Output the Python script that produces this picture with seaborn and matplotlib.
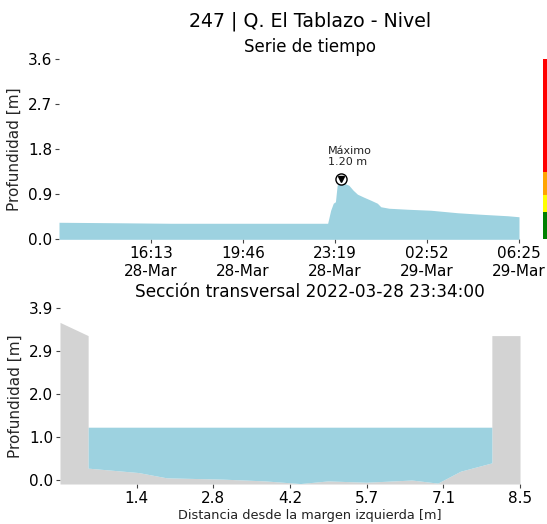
import pandas as pd
import seaborn as sns
import matplotlib
matplotlib.use("Agg")
import matplotlib.pyplot as plt
import matplotlib.dates as mdates
import numpy as np

# Serie de tiempo (profundidad en m)
times = ["2022-03-28 12:40", "2022-03-28 15:00", "2022-03-28 17:00", "2022-03-28 20:00",
         "2022-03-28 23:02", "2022-03-28 23:09", "2022-03-28 23:15", "2022-03-28 23:20",
         "2022-03-28 23:24", "2022-03-28 23:28", "2022-03-28 23:34", "2022-03-28 23:40",
         "2022-03-28 23:51", "2022-03-29 00:01", "2022-03-29 00:11", "2022-03-29 00:26",
         "2022-03-29 00:42", "2022-03-29 00:57", "2022-03-29 01:05", "2022-03-29 01:24",
         "2022-03-29 02:07", "2022-03-29 03:01", "2022-03-29 04:03", "2022-03-29 04:57",
         "2022-03-29 05:59", "2022-03-29 06:25"]
depth = [0.34, 0.33, 0.32, 0.32,
         0.32, 0.58, 0.72, 0.75,
         1.08, 1.12, 1.20, 1.12,
         1.08, 0.98, 0.90, 0.84,
         0.78, 0.72, 0.65, 0.62,
         0.60, 0.58, 0.53, 0.50,
         0.47, 0.45]

# Umbrales de alerta
alert_levels = [0.0, 0.55, 0.88, 1.35, 3.6]
alert_colors = ["green", "yellow", "orange", "red"]

# Sección transversal
dist = [0, 0.52, 0.52, 1.45, 1.97, 3.02, 3.79, 4.44, 4.95, 5.66, 6.50, 6.98, 7.40, 7.98, 7.98, 8.5]
elev = [3.58, 3.28, 0.27, 0.17, 0.05, 0.02, -0.02, -0.08, -0.02, -0.05, 0.0, -0.07, 0.20, 0.39, 3.28, 3.28]
water_level = 1.20
section_time = "2022-03-28 23:34:00"

water_color = "#9dd2e0"

df = pd.DataFrame({"fecha": pd.to_datetime(times), "nivel": depth})
sec = pd.DataFrame({"dist": dist, "elev": elev})

sns.set_theme(style="white")
plt.rcParams["font.family"] = ["DejaVu Sans"]

fig = plt.figure(figsize=(5.47, 5.24), dpi=100)


def fmt1(vals):
    return ["%.1f" % v for v in np.round(vals, 1)]


# ---- Serie de tiempo
ax1 = fig.add_axes([59 / 547, 1 - 239.3 / 524, 460 / 547, 180.3 / 524])
ax1.fill_between(df["fecha"], df["nivel"], 0, color=water_color, lw=0)
t0, t1 = df["fecha"].iloc[0], df["fecha"].iloc[-1]
ax1.set_xlim(t0, t1)
ax1.set_ylim(0, 3.6)
xt = pd.date_range(t0, t1, periods=6)[1:]
ax1.set_xticks(xt)
ax1.xaxis.set_major_formatter(mdates.DateFormatter("%H:%M\n%d-%b"))
yt1 = np.linspace(0, 3.6, 5)
ax1.set_yticks(yt1, fmt1(yt1))
ax1.set_ylabel("Profundidad [m]", fontsize=11)

imax = df["nivel"].idxmax()
tmax, vmax = df["fecha"][imax], df["nivel"][imax]
ax1.plot(tmax, vmax, "o", ms=8, mfc="white", mec="black", mew=1, zorder=5)
ax1.plot(tmax, vmax, "v", ms=4.5, color="black", zorder=6)
ax1.annotate("Máximo\n%.2f m" % vmax, xy=(tmax, vmax), xytext=(6, 8.5),
             textcoords="offset points", ha="center", va="bottom",
             multialignment="left", fontsize=8, color="#222222")

# ---- Barra de alertas
axc = fig.add_axes([542.7 / 547, 1 - 239.3 / 524, 0.02, 180.3 / 524])
for lo, hi, c in zip(alert_levels[:-1], alert_levels[1:], alert_colors):
    axc.bar(0, hi - lo, bottom=lo, width=1, color=c, lw=0)
axc.set_xlim(-0.5, 0.5)
axc.set_ylim(0, 3.6)
axc.axis("off")

# ---- Sección transversal
ax2 = fig.add_axes([60 / 547, 1 - 484 / 524, 460 / 547, 175.7 / 524])
ybot = sec["elev"].min() - 0.01
ax2.fill_between(sec["dist"], sec["elev"], ybot, color="lightgray", lw=0)
chan = sec.iloc[2:14]
ax2.fill_between(chan["dist"], chan["elev"], water_level, color=water_color, lw=0)
ax2.set_xlim(0, 8.5)
ax2.set_ylim(ybot, 3.9)
xt2 = np.linspace(0, 8.5, 7)[1:]
yt2 = np.linspace(0, 3.9, 5)
ax2.set_xticks(xt2, fmt1(xt2))
ax2.set_yticks(yt2, fmt1(yt2))
ax2.set_ylabel("Profundidad [m]", fontsize=11)

for ax in (ax1, ax2):
    sns.despine(ax=ax, left=True, bottom=True)
    ax.tick_params(axis="both", labelsize=11, bottom=True, left=True,
                   length=3, width=0.8, color="#444444", labelcolor="black", pad=2)

# Títulos
fig.text(310 / 547, 1 - 26.7 / 524, "247 | Q. El Tablazo - Nivel", ha="center",
         va="baseline", fontsize=13.7, color="black")
fig.text(310 / 547, 1 - 51.7 / 524, "Serie de tiempo", ha="center",
         va="baseline", fontsize=12, color="black")
fig.text(310 / 547, 1 - 296.7 / 524, "Sección transversal " + section_time,
         ha="center", va="baseline", fontsize=12.2, color="black")
fig.text(310 / 547, 1 - 519 / 524, "Distancia desde la margen izquierda [m]",
         ha="center", va="baseline", fontsize=9.3, color="#222222")

fig.savefig("out.png", dpi=100)
